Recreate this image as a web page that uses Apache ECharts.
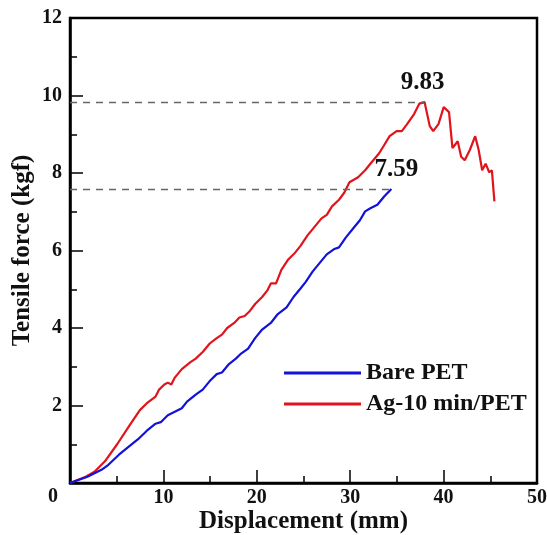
<!DOCTYPE html>
<html>
<head>
<meta charset="utf-8">
<script src="https://cdn.jsdelivr.net/npm/echarts@6/dist/echarts.min.js"></script>
<style>
html,body{margin:0;padding:0;background:#fff;}
#chart{width:547px;height:535px;}
</style>
</head>
<body>
<div id="chart"></div>
<script>
var seriesNames = ['Bare PET', 'Ag-10 min/PET'];

/*Bare PET 位移-拉力*/
var bareX = [0, 1.87, 3.37, 4.11, 5.24, 6.36, 7.29, 8.23, 9.16, 9.72, 10.47, 11.22, 11.97, 12.53, 13.46, 14.21, 14.96, 15.71, 16.27, 17.02, 17.76, 18.32, 19.07, 19.82, 20.57, 21.5, 22.25, 23.19, 23.93, 24.68, 25.24, 25.99, 26.74, 27.49, 28.24, 28.8, 29.54, 30.29, 31.04, 31.6, 32.16, 32.91, 33.66, 34.41];
var bareY = [0, 0.16, 0.34, 0.47, 0.73, 0.95, 1.13, 1.35, 1.53, 1.57, 1.75, 1.84, 1.93, 2.1, 2.28, 2.41, 2.63, 2.81, 2.85, 3.07, 3.21, 3.34, 3.47, 3.74, 3.96, 4.13, 4.36, 4.53, 4.8, 5.02, 5.19, 5.46, 5.68, 5.9, 6.03, 6.08, 6.34, 6.56, 6.78, 7.01, 7.09, 7.18, 7.4, 7.59];

/*Ag-10 min/PET 位移-拉力*/
var agX = [0, 1.68, 2.62, 3.74, 5.05, 6.36, 7.48, 8.23, 9.16, 9.54, 10.1, 10.47, 10.85, 11.22, 11.97, 12.9, 13.46, 14.21, 14.96, 15.71, 16.27, 16.83, 17.58, 18.14, 18.7, 19.26, 19.82, 20.57, 21.13, 21.5, 22.06, 22.63, 23.37, 24.12, 24.68, 25.43, 26.18, 26.93, 27.49, 28.05, 28.8, 29.36, 29.92, 30.85, 31.6, 32.16, 33.1, 33.66, 34.22, 34.97, 35.53, 36.09, 36.84, 37.4, 37.96, 38.52, 38.89, 39.45, 40.01, 40.58, 40.95, 41.51, 41.88, 42.26, 42.82, 43.38, 43.75, 44.13, 44.5, 44.88, 45.17, 45.44];
var agY = [0, 0.16, 0.29, 0.56, 1.0, 1.48, 1.88, 2.06, 2.23, 2.41, 2.54, 2.59, 2.54, 2.72, 2.94, 3.12, 3.21, 3.38, 3.6, 3.74, 3.83, 4.0, 4.13, 4.27, 4.31, 4.44, 4.62, 4.8, 4.97, 5.15, 5.15, 5.5, 5.77, 5.95, 6.12, 6.39, 6.61, 6.83, 6.92, 7.14, 7.31, 7.49, 7.76, 7.89, 8.07, 8.24, 8.51, 8.73, 8.95, 9.08, 9.08, 9.26, 9.52, 9.79, 9.83, 9.21, 9.08, 9.26, 9.7, 9.57, 8.64, 8.82, 8.42, 8.33, 8.6, 8.95, 8.6, 8.07, 8.24, 8.02, 8.07, 7.27];

/*峰值*/
var peakX = [34.41, 37.96];
var peakY = [7.59, 9.83];
var peakText = ['7.59', '9.83'];

var FONT = "'Liberation Serif', 'Times New Roman', serif";

function toPairs(xs, ys){
    var temp = [];
    for(var i=0;i<xs.length;i++){
        temp.push([xs[i], ys[i]]);
    }
    return temp;
}

function peakMark(i){
    return {
        silent: true,
        symbol: ['none', 'none'],
        lineStyle: {color: '#666', type: [7, 6], width: 1.3},
        label: {show: false},
        data: [[{coord: [0, peakY[i]]}, {coord: [peakX[i], peakY[i]]}]]
    };
}

function peakPoint(i, offset){
    return {
        silent: true,
        symbol: 'circle',
        symbolSize: 0,
        label: {
            show: true,
            formatter: peakText[i],
            offset: offset,
            fontFamily: FONT,
            fontWeight: 'bold',
            fontSize: 25,
            color: '#111'
        },
        data: [{coord: [peakX[i], peakY[i]]}]
    };
}

var myChart = echarts.init(document.getElementById('chart'));
var option = {
    animation: false,
    grid: {
        left: 70, right: 10, top: 18, bottom: 52,
        outerBoundsMode: 'none',
        containLabel: false,
        show: true, borderColor: '#000', borderWidth: 2.5
    },
    legend: {
        orient: 'vertical',
        left: 279, top: 356,
        icon: 'rect',
        itemWidth: 77, itemHeight: 3, itemGap: 7,
        data: seriesNames,
        textStyle: {fontFamily: FONT, fontWeight: 'bold', fontSize: 24, color: '#111'}
    },
    xAxis: {
        type: 'value', min: 0, max: 50, interval: 10,
        name: 'Displacement (mm)',
        nameLocation: 'middle', nameGap: 26,
        nameMoveOverlap: false,
        nameTextStyle: {fontFamily: FONT, fontWeight: 'bold', fontSize: 25, color: '#111'},
        axisLine: {lineStyle: {color: '#000', width: 2.5}},
        axisTick: {inside: true, length: 13, lineStyle: {color: '#000', width: 1.5}},
        minorTick: {show: true, splitNumber: 2, length: 7, lineStyle: {color: '#000', width: 1.5}},
        splitLine: {show: false},
        axisLabel: {
            margin: 5,
            fontFamily: FONT, fontWeight: 'bold', fontSize: 20, color: '#111',
            formatter: function(v){ return v === 0 ? '' : String(v); }
        }
    },
    yAxis: {
        type: 'value', min: 0, max: 12, interval: 2,
        name: 'Tensile force (kgf)',
        nameLocation: 'middle', nameGap: 35,
        nameMoveOverlap: false,
        nameTextStyle: {fontFamily: FONT, fontWeight: 'bold', fontSize: 25, color: '#111'},
        axisLine: {lineStyle: {color: '#000', width: 2.5}},
        axisTick: {inside: true, length: 13, lineStyle: {color: '#000', width: 1.5}},
        minorTick: {show: true, splitNumber: 2, length: 7, lineStyle: {color: '#000', width: 1.5}},
        splitLine: {show: false},
        axisLabel: {
            margin: 8,
            fontFamily: FONT, fontWeight: 'bold', fontSize: 20, color: '#111',
            formatter: function(v){ return v === 0 ? '' : String(v); }
        }
    },
    graphic: [{
        type: 'text', left: 48, top: 487,
        style: {text: '0', fontFamily: FONT, fontWeight: 'bold', fontSize: 20, fill: '#111'}
    }],
    series: [
        {
            name: seriesNames[0], type: 'line', symbol: 'none',
            lineStyle: {color: '#1212d8', width: 2.2}, itemStyle: {color: '#1212d8'},
            data: toPairs(bareX, bareY),
            markLine: peakMark(0),
            markPoint: peakPoint(0, [5, -19]),
            z: 3
        },
        {
            name: seriesNames[1], type: 'line', symbol: 'none',
            lineStyle: {color: '#e0141a', width: 2.2}, itemStyle: {color: '#e0141a'},
            data: toPairs(agX, agY),
            markLine: peakMark(1),
            markPoint: peakPoint(1, [-2, -20]),
            z: 2
        }
    ]
};
myChart.setOption(option, true);
</script>
</body>
</html>
